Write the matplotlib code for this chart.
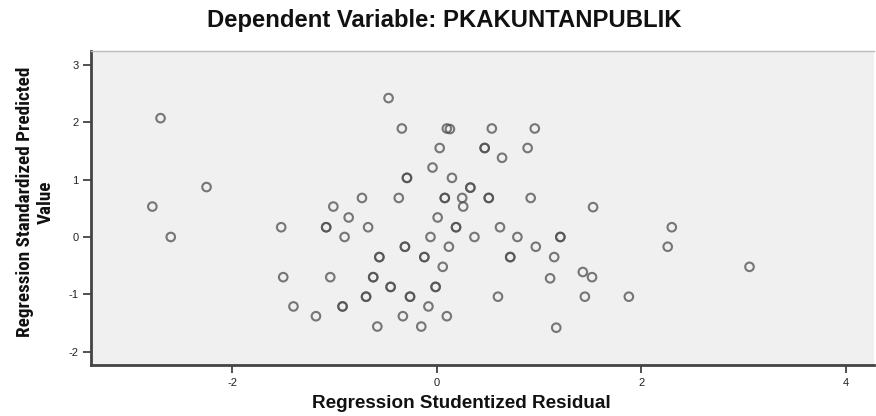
import matplotlib
matplotlib.use("Agg")
import matplotlib.pyplot as plt
from matplotlib import font_manager as fm

# Studentized residual (x) and standardized predicted value (y); darker points listed twice (overlaps)
residual = [-2.70, -2.25, -2.78, -1.01, -2.60, -1.52, -1.08, -1.08, -0.86, -0.90,
            -1.50, -1.04, -1.40, -1.18, -0.92, -0.92,
            -0.47, -0.34, 0.10, 0.13, 0.54, 0.96, 0.03, 0.47, 0.47, 0.89, 0.64,
            -0.04, -0.29, -0.29, 0.15, 0.33, 0.33, -0.73, -0.37, 0.08, 0.08, 0.25,
            0.51, 0.51, 0.92, 0.26, 1.53,
            0.01, -0.67, 0.19, 0.19, 0.62, -0.06, 0.37, 0.79, 1.21, 1.21,
            -0.31, -0.31, 0.12, 0.97, -0.56, -0.56, -0.12, -0.12, 0.72, 0.72, 1.15,
            0.06, -0.62, -0.62, 1.11, 1.43, 1.52, -0.45, -0.45, -0.01, -0.01,
            -0.69, -0.69, -0.26, -0.26, 0.60, 1.45, -0.08, -0.33, 0.10, -0.58,
            -0.15, 1.17, 2.30, 2.26, 3.06, 1.88]
predicted = [2.07, 0.87, 0.53, 0.53, 0.00, 0.17, 0.17, 0.17, 0.34, 0.00,
             -0.70, -0.70, -1.21, -1.38, -1.21, -1.21,
             2.42, 1.89, 1.89, 1.88, 1.89, 1.89, 1.55, 1.55, 1.55, 1.55, 1.38,
             1.21, 1.03, 1.03, 1.03, 0.86, 0.86, 0.68, 0.68, 0.68, 0.68, 0.68,
             0.68, 0.68, 0.68, 0.53, 0.52,
             0.34, 0.17, 0.17, 0.17, 0.17, 0.00, 0.00, 0.00, 0.00, 0.00,
             -0.17, -0.17, -0.17, -0.17, -0.35, -0.35, -0.35, -0.35, -0.35, -0.35, -0.35,
             -0.52, -0.70, -0.70, -0.72, -0.61, -0.70, -0.87, -0.87, -0.87, -0.87,
             -1.04, -1.04, -1.04, -1.04, -1.04, -1.04, -1.21, -1.38, -1.38, -1.56,
             -1.56, -1.58, 0.17, -0.17, -0.52, -1.04]

xticks = [-2, 0, 2, 4]
yticks = [-2, -1, 0, 1, 2, 3]
title = "Dependent Variable: PKAKUNTANPUBLIK"
xlabel = "Regression Studentized Residual"
ylabel_lines = ["Regression Standardized Predicted", "Value"]

names = {f.name for f in fm.fontManager.ttflist}
base = "Liberation Sans" if "Liberation Sans" in names else "DejaVu Sans"
plt.rcParams['font.family'] = [base, 'DejaVu Sans']

narrow_family, narrow_stretch = base, "normal"
for cand in ["Liberation Sans Narrow", "Arial Narrow", "Roboto Condensed", "Open Sans Condensed"]:
    if cand in names:
        narrow_family = cand
        break
else:
    if any(f.name == "DejaVu Sans" and str(f.stretch) in ("condensed", "semi-condensed")
           for f in fm.fontManager.ttflist):
        narrow_family, narrow_stretch = "DejaVu Sans", "condensed"

W, H = 876, 416
fig = plt.figure(figsize=(W / 100, H / 100), dpi=100)
fig.patch.set_facecolor("white")
ax = fig.add_axes([91 / W, 1 - 365 / H, 1 - 91 / W - 0.002, (365 - 51) / H])
ax.set_facecolor("#f0f0f0")

ax.scatter(residual, predicted, s=38, facecolors="none", edgecolors=(0.3, 0.3, 0.3, 0.75),
           linewidths=1.5, zorder=3)

ax.set_xlim(-3.38, 4.28)
ax.set_ylim(-2.23, 3.24)
ax.set_xticks(xticks)
ax.set_yticks(yticks)
ax.set_xticklabels([str(t) for t in xticks], fontsize=8, color="#222222")
ax.set_yticklabels([str(t) for t in yticks], fontsize=8, color="#222222")
ax.tick_params(axis="both", direction="out", length=6, width=1.2, color="#333333", pad=3)

for s in ["left", "bottom"]:
    ax.spines[s].set_color("#444444")
    ax.spines[s].set_linewidth(2)
ax.spines["top"].set_color("#bbbbbb")
ax.spines["top"].set_linewidth(1)
ax.spines["right"].set_visible(False)

t = fig.text(444 / W, 1 - 20 / H, title, ha="center", va="center", fontsize=13,
             fontweight="bold", color="#111111")
xl = fig.text(461 / W, 1 - 404 / H, xlabel, ha="center", va="center", fontsize=12,
              fontweight="bold", color="#111111")
yl1 = fig.text(25 / W, 1 - 202 / H, ylabel_lines[0], ha="center",
               va="center", rotation=90, fontsize=11, fontweight="bold",
               family=[narrow_family, "DejaVu Sans"], fontstretch=narrow_stretch, color="#111111")
yl2 = fig.text(46 / W, 1 - 202 / H, ylabel_lines[1], ha="center", va="center", rotation=90,
               fontsize=11, fontweight="bold", family=[narrow_family, "DejaVu Sans"],
               fontstretch=narrow_stretch, color="#111111")

# fit label sizes to measured extents of the reference
fig.canvas.draw()
r = fig.canvas.get_renderer()
def fit(txt, target, horizontal=True):
    bb = txt.get_window_extent(r)
    cur = bb.width if horizontal else bb.height
    txt.set_fontsize(txt.get_fontsize() * target / cur)
fit(t, 474)
fit(xl, 297)
fit(yl1, 269, horizontal=False)
yl2.set_fontsize(yl1.get_fontsize())

fig.savefig("out.png", dpi=100, facecolor="white")
